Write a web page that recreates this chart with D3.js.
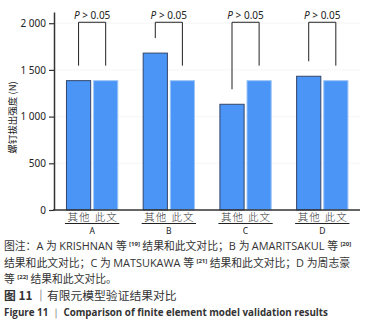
<!DOCTYPE html>
<html><head><meta charset="utf-8">
<script src="https://cdn.jsdelivr.net/npm/d3@7/dist/d3.min.js"></script>
<style>
body{margin:0;background:#fff;}
svg{display:block;font-family:"Noto Sans","Noto Sans CJK SC",sans-serif;}
</style></head>
<body><svg id="c" width="383" height="334"></svg>
<script>
const groups = ["A","B","C","D"];
const series = ["其他","此文"];
const otherValues = [1385, 1680, 1132, 1432];
const thisValues = [1385, 1385, 1385, 1385];
const pLabels = ["P > 0.05","P > 0.05","P > 0.05","P > 0.05"];
const yTicks = [0, 500, 1000, 1500, 2000];
const yTickLabels = ["0","500","1 000","1 500","2 000"];
const yTitle = "螺钉拔出强度 (N)";
// segments: [text, kind] kind 0 = CJK, 1 = superscript, 2 = Latin
const captionLines = [
  [["图注：",0],["A ",2],["为 ",0],["KRISHNAN ",2],["等 ",0],["[19]",1],[" 结果和此文对比；",0],["B ",2],["为 ",0],["AMARITSAKUL ",2],["等 ",0],["[20]",1]],
  [["结果和此文对比；",0],["C ",2],["为 ",0],["MATSUKAWA ",2],["等 ",0],["[21]",1],[" 结果和此文对比；",0],["D ",2],["为周志豪",0]],
  [["等 ",0],["[22]",1],[" 结果和此文对比。",0]]
];
const figTitleCn = ["图 11","｜有限元模型验证结果对比"];
const figTitleEn = ["Figure 11","｜","Comparison of finite element model validation results"];

const svg = d3.select("#c");
const y = d3.scaleLinear().domain([0, 2120]).range([210, 12]);
const x0 = d3.scaleBand().domain(groups).range([54, 360.4]).paddingInner(0.318).paddingOuter(0.156);
const x1 = d3.scaleBand().domain(series).range([0, x0.bandwidth()]).paddingInner(0.07);

// faint grid
svg.append("g").selectAll("line").data(yTicks.slice(1)).join("line")
  .attr("x1",54).attr("x2",360).attr("y1",d=>y(d)).attr("y2",d=>y(d))
  .attr("stroke","#f4f4f4").attr("stroke-width",0.8);

const data = groups.map((g,i)=>({g, vals:[otherValues[i], thisValues[i]]}));
const gg = svg.append("g").selectAll("g").data(data).join("g")
  .attr("transform",d=>`translate(${x0(d.g)},0)`);
gg.selectAll("rect").data(d=>d.vals.map((v,j)=>({s:series[j],v,j}))).join("rect")
  .attr("x",d=>x1(d.s)+0.5).attr("width",x1.bandwidth()-1)
  .attr("y",d=>y(d.v)).attr("height",d=>y(0)-y(d.v))
  .attr("fill","#4a95f6")
  .attr("stroke",d=>d.j===0?"#34466a":"#9fc6f5").attr("stroke-width",1);

// brackets
const topV = 2010;
data.forEach((d,i)=>{
  const g = svg.append("g").attr("transform",`translate(${x0(d.g)},0)`);
  const xa = x1(series[0])+x1.bandwidth()/2, xb = x1(series[1])+x1.bandwidth()/2;
  const ya = y(d.vals[0])-15, yb = y(d.vals[1])-15;
  g.append("path").attr("d",`M${xa},${ya}V${y(topV)}H${xb}V${yb}`)
    .attr("fill","none").attr("stroke","#222").attr("stroke-width",1);
  const t = g.append("text").attr("x",(xa+xb)/2).attr("y",y(topV)-3.5)
    .attr("text-anchor","middle").attr("font-size",10).attr("fill","#222");
  t.append("tspan").attr("font-style","italic").text(pLabels[i].split(" ")[0]);
  t.append("tspan").text(" "+pLabels[i].split(" ").slice(1).join(" "));
});

// y axis
const ya = svg.append("g").attr("transform","translate(54,0)")
  .call(d3.axisLeft(y).tickValues(yTicks).tickFormat((d,i)=>yTickLabels[i]).tickSize(5).tickSizeOuter(0));
ya.select(".domain").attr("stroke","#333").attr("stroke-width",1.5);
ya.selectAll(".tick line").attr("stroke","#333").attr("stroke-width",1.2);
ya.selectAll(".tick text").attr("font-size",10).attr("fill","#222").attr("x",-8)
  .attr("font-family","'Noto Sans',sans-serif");

// x axis line
svg.append("line").attr("x1",53).attr("x2",360).attr("y1",y(0)).attr("y2",y(0))
  .attr("stroke","#333").attr("stroke-width",1.5);

// x labels
const xl = svg.append("g").selectAll("g").data(groups).join("g")
  .attr("transform",d=>`translate(${x0(d)},0)`);
series.forEach(s=>{
  xl.append("text").attr("x",x1(s)+x1.bandwidth()/2+0.5).attr("y",221)
    .attr("text-anchor","middle").attr("font-size",10.5).attr("fill","#333")
    .attr("letter-spacing",1).attr("font-weight",300)
    .attr("font-family","'Noto Sans CJK SC',sans-serif").text(s);
});
xl.append("line").attr("x1",-1).attr("x2",x0.bandwidth()+1).attr("y1",223.5).attr("y2",223.5)
  .attr("stroke","#222").attr("stroke-width",1);
xl.append("text").attr("x",x0.bandwidth()/2).attr("y",234).attr("text-anchor","middle")
  .attr("font-size",8.5).attr("fill","#222").text(d=>d);

// y title
svg.append("text").attr("transform","translate(16,117.5) rotate(-90)")
  .attr("text-anchor","middle").attr("font-size",9.5).attr("fill","#222")
  .attr("font-family","'Noto Sans CJK SC',sans-serif").text(yTitle);

// caption
captionLines.forEach((ln,i)=>{
  const baseY = 250+i*16.7;
  const t = svg.append("text").attr("x",4).attr("y",baseY).attr("font-size",10.8)
    .attr("fill","#333").attr("font-family","'Noto Sans CJK SC',sans-serif");
  ln.forEach(([s,k])=>{
    const sp = t.append("tspan").text(s).attr("y",baseY);
    if(k===1) sp.attr("font-size",6).attr("font-weight","bold").attr("y",baseY-4)
      .attr("font-family","'Open Sans',sans-serif");
    if(k===2) sp.attr("font-family","'Open Sans',sans-serif").attr("font-size",10.9);
  });
});

const t1 = svg.append("text").attr("x",4).attr("y",300).attr("font-size",11.8).attr("fill","#333")
  .attr("font-family","'Noto Sans CJK SC',sans-serif");
t1.append("tspan").attr("font-weight","bold").text(figTitleCn[0]+" ");
t1.append("tspan").text(figTitleCn[1]);
const t2 = svg.append("text").attr("x",4).attr("y",316).attr("font-size",9.8).attr("fill","#333")
  .attr("font-weight","bold").attr("font-family","'Open Sans','Noto Sans',sans-serif");
t2.append("tspan").text(figTitleEn[0]+" ");
t2.append("tspan").attr("font-weight","normal").attr("fill","#666").text(figTitleEn[1]+" ");
t2.append("tspan").text(figTitleEn[2]);
</script></body></html>
